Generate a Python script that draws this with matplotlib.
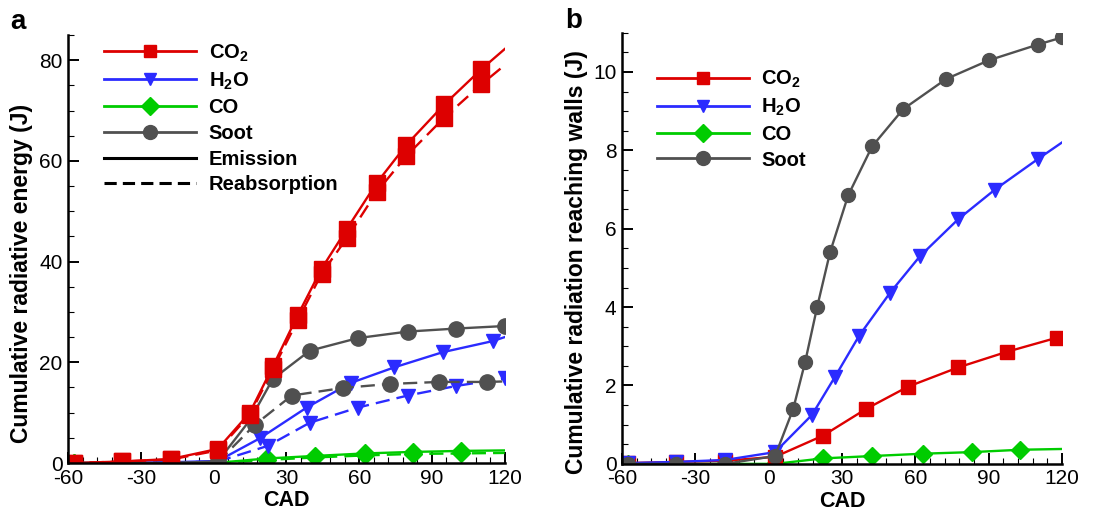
import matplotlib
matplotlib.use("Agg")
import matplotlib.pyplot as plt
from matplotlib.lines import Line2D

plt.rcParams['font.family'] = ['Liberation Sans', 'DejaVu Sans']
plt.rcParams['mathtext.default'] = 'regular'
plt.rcParams['axes.unicode_minus'] = False

# ---- panel a: cumulative radiative energy (J) ----
a_co2_x = [-60, -57.5, -37.8, -17.6, 1.7, 14.9, 24.4, 34.7, 44.5, 54.8, 67.2, 79.5, 95.1, 110.4, 120]
a_co2_em = [0, 0, 0.3, 0.8, 2.8, 10.0, 19.2, 29.4, 38.6, 46.4, 55.6, 63.2, 71.2, 78.2, 82.2]
a_co2_re = [0, 0, 0.3, 0.7, 2.5, 9.6, 18.6, 28.4, 37.6, 44.6, 53.8, 61.0, 68.6, 75.2, 79.0]

a_h2o_em_x = [-60, -57.5, -37.8, -17.6, 1.7, 19.0, 38.3, 56.5, 74.5, 94.4, 115.0, 120]
a_h2o_em = [0, 0, 0.05, 0.15, 0.4, 4.9, 11.0, 15.9, 19.0, 22.0, 24.2, 25.0]
a_h2o_re_x = [-60, -57.5, -37.8, -17.6, 1.7, 22.3, 39.6, 59.4, 80.0, 100.0, 120]
a_h2o_re = [0, 0, 0.05, 0.1, 0.3, 3.4, 8.0, 11.0, 13.4, 15.3, 16.8]

a_soot_em_x = [-60, -57.5, -37.8, -17.6, 1.7, 14.9, 24.4, 39.6, 59.4, 80.0, 100.0, 120]
a_soot_em = [0, 0, 0, 0, 0.3, 8.5, 16.7, 22.3, 24.8, 26.1, 26.7, 27.2]
a_soot_re_x = [-60, -57.5, -37.8, -17.6, 1.7, 17.0, 32.2, 53.2, 72.5, 93.1, 112.8, 120]
a_soot_re = [0, 0, 0, 0, 0.2, 7.6, 13.4, 14.9, 15.7, 16.1, 16.1, 16.2]

a_co_x = [-60, -57.5, -37.8, -17.6, 1.7, 21.9, 41.6, 62.2, 82.0, 102.0, 120]
a_co_em = [0, 0, 0, 0, 0.05, 0.9, 1.4, 1.9, 2.2, 2.4, 2.5]
a_co_re = [0, 0, 0, 0, 0.03, 0.6, 1.1, 1.5, 1.8, 1.9, 2.0]

# ---- panel b: cumulative radiation reaching walls (J) ----
b_soot_x = [-60, -57.5, -37.9, -17.9, 2.6, 10.0, 14.9, 19.8, 25.1, 32.5, 42.3, 55.0, 72.6, 90.2, 110.2, 120]
b_soot = [0, 0, 0, 0, 0.2, 1.4, 2.6, 4.0, 5.4, 6.85, 8.1, 9.05, 9.82, 10.3, 10.7, 10.88]
b_h2o_x = [-60, -57.5, -37.9, -17.9, 2.6, 17.7, 27.1, 37.0, 49.7, 61.9, 77.5, 92.6, 110.2, 120]
b_h2o = [0, 0.02, 0.05, 0.1, 0.3, 1.25, 2.22, 3.27, 4.37, 5.3, 6.24, 7.0, 7.78, 8.2]
b_co2_x = [-60, -57.5, -37.9, -17.9, 2.6, 22.2, 39.8, 57.0, 77.5, 97.5, 118.0, 120]
b_co2 = [0, 0.02, 0.05, 0.08, 0.18, 0.72, 1.4, 1.97, 2.46, 2.86, 3.22, 3.25]
b_co_x = [-60, -57.5, -37.9, -17.9, 2.6, 22.2, 42.3, 63.2, 83.2, 102.9, 120]
b_co = [0, 0, 0, 0, 0, 0.14, 0.2, 0.26, 0.3, 0.36, 0.38]

species = ['CO$_2$', 'H$_2$O', 'CO', 'Soot']
c_red, c_blue, c_green, c_gray = '#dd0000', '#2b2bff', '#00cc00', '#505050'
colors = [c_red, c_blue, c_green, c_gray]
markers = ['s', 'v', 'D', 'o']
leg_ms = [9, 9, 9, 10]

fig = plt.figure(figsize=(11.19, 5.12), dpi=100)
ax1 = fig.add_axes([0.061, 0.0957, 0.390, 0.836])
ax2 = fig.add_axes([0.556, 0.094, 0.393, 0.842])

dash = (6, 3)
lw = 1.7


def style(ax, ymax, ymaj, ymin):
    ax.set_xlim(-60, 120)
    ax.set_ylim(0, ymax)
    ax.set_xticks(range(-60, 121, 30))
    ax.set_xticks(range(-60, 121, 6), minor=True)
    ax.set_yticks([v * ymaj for v in range(int(ymax / ymaj) + 1)])
    ax.set_yticks([v * ymin for v in range(int(ymax / ymin) + 1)], minor=True)
    for s in ['top', 'right']:
        ax.spines[s].set_visible(False)
    for s in ['left', 'bottom']:
        ax.spines[s].set_linewidth(1.8)
    ax.tick_params(which='major', direction='in', length=8, width=1.4, labelsize=15, pad=4)
    ax.tick_params(which='minor', direction='in', length=4, width=0.8)
    ax.set_xlabel('CAD', fontsize=15.5, fontweight='bold')
    ax.xaxis.set_label_coords(0.5, -0.062)


# panel a
ax1.plot(a_co_x, a_co_re, color=c_green, lw=lw, dashes=dash, marker='D', ms=9, markevery=list(range(1, 10)))
ax1.plot(a_co_x, a_co_em, color=c_green, lw=lw, marker='D', ms=9, markevery=list(range(1, 10)))
ax1.plot(a_h2o_re_x, a_h2o_re, color=c_blue, lw=lw, dashes=dash, marker='v', ms=10, markevery=list(range(1, 11)))
ax1.plot(a_h2o_em_x, a_h2o_em, color=c_blue, lw=lw, marker='v', ms=10, markevery=list(range(1, 11)))
ax1.plot(a_soot_re_x, a_soot_re, color=c_gray, lw=lw, dashes=dash, marker='o', ms=11, markevery=list(range(1, 11)))
ax1.plot(a_soot_em_x, a_soot_em, color=c_gray, lw=lw, marker='o', ms=11, markevery=[1, 2, 3, 4, 6, 7, 8, 9, 10, 11])
ax1.plot(a_co2_x, a_co2_re, color=c_red, lw=lw, dashes=dash, marker='s', ms=11, markevery=list(range(1, 14)))
ax1.plot(a_co2_x, a_co2_em, color=c_red, lw=lw, marker='s', ms=11, markevery=list(range(1, 14)))
style(ax1, 85, 20, 5)
ax1.set_ylabel('Cumulative radiative energy (J)', fontsize=16.5, fontweight='bold')
ax1.yaxis.set_label_coords(-0.080, 0.444)

handles = [Line2D([], [], color=c, marker=m, ms=s, lw=2) for c, m, s in zip(colors, markers, leg_ms)]
handles += [Line2D([], [], color='black', lw=2.2), Line2D([], [], color='black', lw=2.2, dashes=(4, 2))]
labels = species + ['Emission', 'Reabsorption']
ax1.legend(handles, labels, loc='upper left', bbox_to_anchor=(0.04, 1.025), frameon=False,
           handlelength=4.6, numpoints=1, labelspacing=0.33, handletextpad=0.6,
           prop={'size': 14.5, 'weight': 'bold'})

# panel b
ax2.plot(b_co_x, b_co, color=c_green, lw=lw, marker='D', ms=9, markevery=list(range(1, 10)))
ax2.plot(b_co2_x, b_co2, color=c_red, lw=lw, marker='s', ms=10, markevery=list(range(1, 11)))
ax2.plot(b_h2o_x, b_h2o, color=c_blue, lw=lw, marker='v', ms=10, markevery=list(range(1, 13)))
ax2.plot(b_soot_x, b_soot, color=c_gray, lw=lw, marker='o', ms=10, markevery=list(range(1, 16)))
style(ax2, 11, 2, 0.5)
ax2.set_ylabel('Cumulative radiation reaching walls (J)', fontsize=16.5, fontweight='bold')
ax2.yaxis.set_label_coords(-0.077, 0.469)

handles2 = [Line2D([], [], color=c, marker=m, ms=s, lw=2) for c, m, s in zip(colors, markers, leg_ms)]
ax2.legend(handles2, species, loc='upper left', bbox_to_anchor=(0.037, 0.958), frameon=False,
           handlelength=4.6, numpoints=1, labelspacing=0.33, handletextpad=0.6,
           prop={'size': 14.5, 'weight': 'bold'})

fig.text(10 / 1119, 1 - 29 / 512, 'a', fontsize=20, fontweight='bold')
fig.text(565 / 1119, 1 - 28 / 512, 'b', fontsize=20, fontweight='bold')

fig.savefig('out.png', dpi=100)
